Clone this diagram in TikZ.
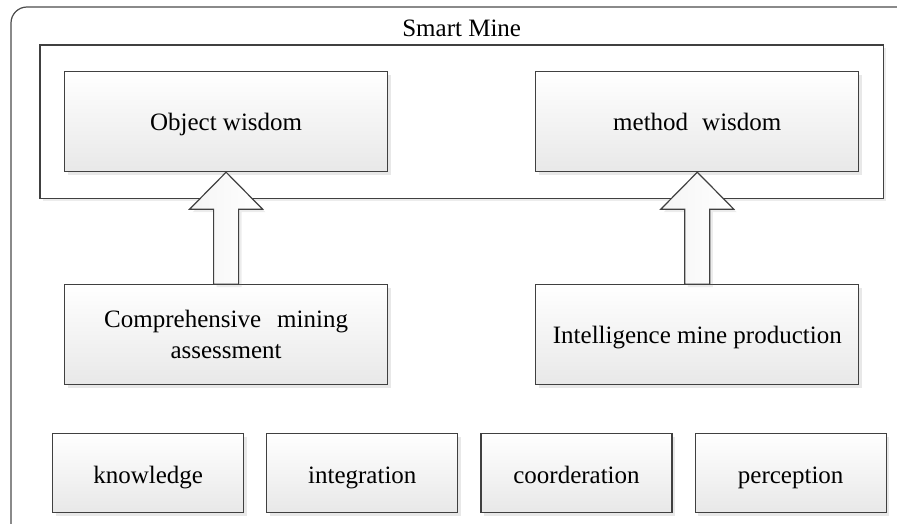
\documentclass[tikz,border=0pt]{standalone}
\usepackage{fontspec}
\setmainfont{Liberation Serif}
\usetikzlibrary{positioning,calc,fit,backgrounds,shadows}

\begin{document}
\begin{tikzpicture}[
      x=1pt, y=-1pt,
      box_node/.style={
         rectangle,
         draw=black!75,
         line width=1.2pt,
         top color=white,
         bottom color=black!9,
         drop shadow={shadow xshift=3pt, shadow yshift=-3pt, opacity=0.18},
         inner sep=0pt,
         align=center,
         font=\fontsize{25}{31}\selectfont},
      wide_box/.style={
         box_node,
         minimum width=323pt,
         minimum height=100pt},
      small_box/.style={
         box_node,
         minimum width=191pt,
         minimum height=79pt,
         text height=24pt,
         text depth=3pt},
      one_line/.style={
         text height=22pt,
         text depth=4pt},
      frame_box/.style={
         rectangle,
         draw=black!75,
         line width=1.2pt,
         fill=white,
         drop shadow={shadow xshift=3pt, shadow yshift=-3pt, opacity=0.15}},
      up_arrow/.style={
         draw=black!75,
         line width=1.2pt,
         left color=black!4,
         right color=white,
         drop shadow={shadow xshift=3pt, shadow yshift=-3pt, opacity=0.15}},
      outer_frame/.style={
         draw=black!70,
         line width=1.2pt,
         rounded corners=16pt}
]
      \path[use as bounding box, clip] (0,0) rectangle (897,524);

      %outer frame
      \draw[outer_frame] (11,7) rectangle (925,545);

      %wisdom row
      \node[wide_box, one_line, anchor=north west] (obj) at (64,71) {Object wisdom};
      \node[wide_box, one_line, right=147pt of obj] (method) {method\hspace{14pt}wisdom};

      \begin{scope}[on background layer]
        \node[frame_box, fit=(obj)(method), inner xsep=24pt, inner ysep=26pt] (frame) {};
      \end{scope}
      \node[font=\fontsize{25}{31}\selectfont, above=8pt of frame.north, anchor=base] (title) {Smart Mine};

      %middle row
      \node[wide_box, below=112pt of obj] (comp) {Comprehensive\hspace{16pt}mining\\assessment};
      \node[wide_box, one_line, below=112pt of method] (intel) {Intelligence mine production};

      %bottom row
      \node[small_box, anchor=north west] (know) at (52,433) {knowledge};
      \node[small_box, right=22pt of know] (integ) {integration};
      \node[small_box, right=22pt of integ] (coord) {coorderation};
      \node[small_box, right=22pt of coord] (perc) {perception};

      \foreach \from/\to in {% start node/end node
        comp/obj,
        intel/method}
      {
        \path (\from.north) coordinate (base);
        \draw[up_arrow] ($(base)+(-12.5,0)$) -- ($(base |- \to.south)+(-12.5,37)$) -- ++(-24,0)
          -- (base |- \to.south) -- ($(base |- \to.south)+(36.5,37)$) -- ++(-24,0)
          -- ($(base)+(12.5,0)$) -- cycle;
      }

\end{tikzpicture}
\end{document}
